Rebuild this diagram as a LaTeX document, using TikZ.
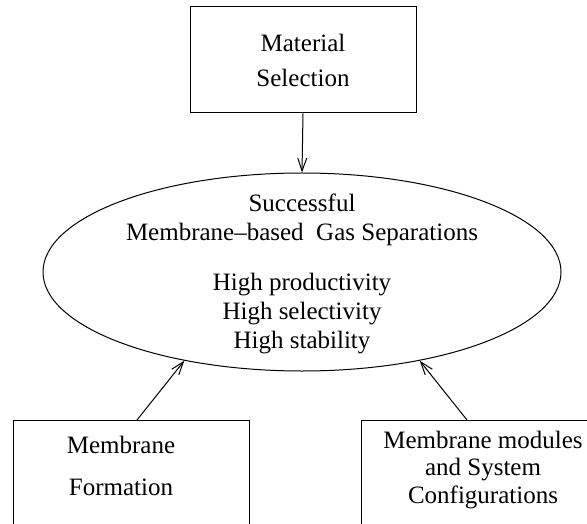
\documentclass[tikz,border=0pt]{standalone}
\usepackage{fontspec}
\setmainfont{Liberation Serif}
\usetikzlibrary{arrows.meta,shapes.geometric}

\begin{document}
\begin{tikzpicture}[x=0.5pt, y=-0.5pt, line width=0.5pt,
    font=\fontsize{12.5}{14.5}\selectfont,
    box/.style={draw, rectangle, align=center, inner sep=0pt},
    goal/.style={draw, ellipse, inner sep=0pt, minimum width=259pt, minimum height=99pt},
    txt/.style={align=center, inner sep=0pt},
    >={Straight Barb[length=6.5pt, width=4.5pt]}]

  \useasboundingbox (0,0) rectangle (587,523);

  \node[box, minimum width=113pt, minimum height=53pt] (sel) at (303,60) {Material\\[3pt]Selection};

  \node[goal] (goal) at (302,272) {};
  \node[txt] (goaltxt) at (302,274) {Successful\\Membrane--based\ \ Gas Separations\\[10.5pt]High productivity\\High selectivity\\High stability};

  \node[box, anchor=north west, minimum width=118pt, minimum height=70pt] (form) at (13,420) {};
  \node[txt] (formtxt) at (121,466) {Membrane\\[6.5pt]Formation};

  \node[box, anchor=north west, minimum width=130pt, minimum height=70pt] (conf) at (361,420) {};
  \node[txt] (conftxt) at (483,470) {Membrane modules\\[-0.75pt]and System\\[-0.75pt]Configurations};

  \draw[->] (sel.south) -- (goal.north);
  \draw[->] ([xshift=62pt]form.north west) -- (goal.217);
  \draw[->] ([xshift=53pt]conf.north west) -- (goal.323);

\end{tikzpicture}
\end{document}
